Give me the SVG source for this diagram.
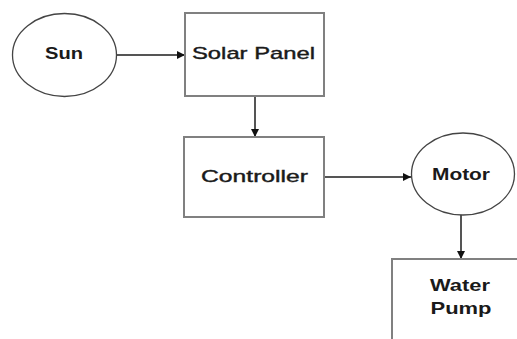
<svg xmlns="http://www.w3.org/2000/svg" width="517" height="339" viewBox="0 0 517 339">
<style>
.box{fill:#fff;stroke:#808080;stroke-width:2}
.ell{fill:#fff;stroke:#444;stroke-width:1.3}
.lbl{font-family:"Liberation Sans",Arial,sans-serif;font-size:17px;font-weight:bold;fill:#1a1a1a;text-anchor:middle}
.reg{font-weight:normal;stroke:#1a1a1a;stroke-width:0.4}
.con{stroke:#555;stroke-width:2;fill:none;marker-end:url(#ah)}
</style>
<defs>
<marker id="ah" viewBox="0 0 10 10" refX="10" refY="5" markerWidth="5" markerHeight="4" markerUnits="strokeWidth" orient="auto">
<path d="M0,0 L10,5 L0,10 z" fill="#111"/>
</marker>
</defs>
<rect width="517" height="339" fill="#fff"/>
<g id="connectors">
<line class="con" x1="117" y1="55" x2="185" y2="55"/>
<line class="con" x1="255" y1="96" x2="255" y2="137"/>
<line class="con" x1="324" y1="177" x2="411" y2="177"/>
<line class="con" x1="461" y1="215" x2="461" y2="259"/>
</g>
<g id="sun">
<ellipse class="ell" cx="64.5" cy="55" rx="52" ry="41.5"/>
<text class="lbl" x="64" y="58.5" textLength="38" lengthAdjust="spacingAndGlyphs">Sun</text>
</g>
<g id="solar-panel">
<rect class="box" x="185" y="13" width="139" height="83"/>
<text class="lbl reg" x="253.5" y="58.5" textLength="123" lengthAdjust="spacingAndGlyphs">Solar Panel</text>
</g>
<g id="controller">
<rect class="box" x="184" y="137" width="140" height="80"/>
<text class="lbl reg" x="254.5" y="182" textLength="107" lengthAdjust="spacingAndGlyphs">Controller</text>
</g>
<g id="motor">
<ellipse class="ell" cx="463" cy="174" rx="51.5" ry="41"/>
<text class="lbl" x="461" y="179.5" textLength="58" lengthAdjust="spacingAndGlyphs">Motor</text>
</g>
<g id="water-pump">
<rect class="box" x="392" y="259" width="140" height="90"/>
<text class="lbl" x="460" y="290.5" textLength="60" lengthAdjust="spacingAndGlyphs">Water</text>
<text class="lbl" x="461" y="313.5" textLength="61" lengthAdjust="spacingAndGlyphs">Pump</text>
</g>
</svg>
